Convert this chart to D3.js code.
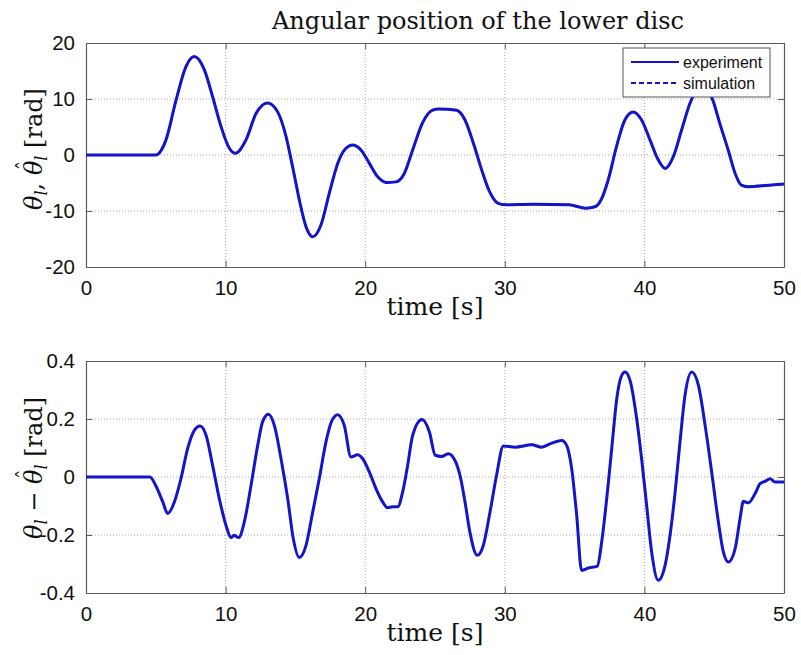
<!DOCTYPE html>
<html><head><meta charset="utf-8">
<script src="https://cdn.jsdelivr.net/npm/d3@7/dist/d3.min.js"></script>
<style>body{margin:0;background:#fff}</style>
</head><body>
<svg id="chart" width="801" height="655"></svg>
<script>
// ---- data ----
const xTicks = [0, 10, 20, 30, 40, 50];
const yTicksTop = [-20, -10, 0, 10, 20];
const yTicksBot = [-0.4, -0.2, 0, 0.2, 0.4];
const yTickLabelsBot = ["-0.4", "-0.2", "0", "0.2", "0.4"];
const seriesNames = ["experiment", "simulation"];

const timeTop = [0, 5.0, 5.73, 6.45, 7.16, 7.76, 8.48, 9.07, 9.67, 10.27, 10.7, 11.46, 12.18, 13.0, 13.73, 14.33, 14.8, 15.28, 15.76, 16.24, 16.83, 17.43, 18.03, 18.62, 19.1, 19.7, 20.3, 20.9, 21.5, 22.2, 22.8, 23.4, 24.1, 24.83, 25.3, 26.55, 27.15, 27.75, 28.35, 28.9, 29.5, 30.0, 32.0, 34.6, 35.8, 36.5, 36.9, 37.4, 38.0, 38.6, 39.2, 39.8, 40.4, 41.0, 41.5, 42.07, 42.67, 43.26, 44.2, 44.9, 45.4, 46.0, 46.5, 46.95, 47.4, 48.9, 50];
const experimentTop = [0, 0, 2.7, 9.8, 15.8, 17.6, 15.2, 10.4, 5.1, 1.2, 0.3, 2.7, 7.4, 9.3, 7.7, 3.3, -2.1, -8.0, -12.8, -14.6, -12.5, -6.8, -1.5, 1.2, 1.8, 0.9, -1.5, -3.9, -4.9, -4.8, -3.3, 0.9, 5.7, 8.0, 8.2, 8.0, 6.25, 2.1, -2.7, -6.5, -8.6, -8.9, -8.8, -8.9, -9.5, -9.2, -8.0, -4.5, 1.5, 6.25, 7.7, 6.25, 2.7, -0.9, -2.4, -0.3, 4.5, 9.2, 12.5, 9.8, 5.65, 0.9, -3.3, -5.4, -5.65, -5.4, -5.2];

const timeBot = [0, 4.58, 5.0, 5.5, 5.85, 6.33, 6.8, 7.28, 7.76, 8.17, 8.6, 9.07, 9.55, 10.03, 10.39, 10.6, 10.94, 11.34, 11.82, 12.3, 12.65, 13.06, 13.49, 13.97, 14.45, 14.85, 15.28, 15.76, 16.24, 16.71, 17.19, 17.62, 18.03, 18.5, 18.98, 19.46, 19.82, 20.3, 20.77, 21.25, 21.6, 21.97, 22.33, 22.68, 23.04, 23.4, 24.07, 24.6, 25.02, 25.48, 25.95, 26.43, 26.79, 27.15, 27.5, 28.03, 28.46, 28.94, 29.41, 29.9, 30.73, 31.93, 32.64, 33.36, 34.08, 34.43, 34.79, 35.15, 35.5, 35.98, 36.63, 36.94, 37.3, 37.66, 38.02, 38.33, 38.61, 38.97, 39.45, 39.8, 40.16, 40.52, 41.0, 41.48, 41.84, 42.2, 42.55, 42.91, 43.39, 43.87, 44.35, 44.82, 45.3, 45.66, 46.02, 46.5, 46.85, 47.09, 47.45, 47.93, 48.29, 48.65, 49.0, 49.36, 50];
const errorBot = [0, 0, -0.03, -0.086, -0.126, -0.086, -0.006, 0.098, 0.161, 0.176, 0.144, 0.04, -0.075, -0.167, -0.209, -0.201, -0.209, -0.155, -0.029, 0.109, 0.19, 0.216, 0.178, 0.063, -0.075, -0.213, -0.278, -0.236, -0.121, -0.006, 0.121, 0.195, 0.215, 0.178, 0.069, 0.077, 0.063, 0.017, -0.04, -0.086, -0.106, -0.103, -0.103, -0.052, 0.04, 0.144, 0.198, 0.155, 0.075, 0.071, 0.08, 0.057, 0.006, -0.086, -0.19, -0.27, -0.236, -0.121, 0.006, 0.107, 0.103, 0.111, 0.103, 0.117, 0.126, 0.109, 0.029, -0.132, -0.322, -0.314, -0.307, -0.224, -0.075, 0.098, 0.27, 0.345, 0.362, 0.333, 0.2, 0.063, -0.098, -0.259, -0.356, -0.305, -0.2, -0.052, 0.121, 0.282, 0.362, 0.316, 0.178, 0.017, -0.155, -0.259, -0.293, -0.247, -0.144, -0.084, -0.089, -0.057, -0.023, -0.015, -0.006, -0.017, -0.017];

// ---- drawing ----
const svg = d3.select("#chart");
const LINE = "#1414cc";
const AX = "#5a5a5a";
const L = 86, R = 784;
const x = d3.scaleLinear().domain([0, 50]).range([L, R]);

function panel(y0, y1, yDomain, yTicks, yLabels, t, v, withSim) {
  const y = d3.scaleLinear().domain(yDomain).range([y1, y0]);
  const g = svg.append("g");
  g.append("g").selectAll("line").data(xTicks.slice(1, -1)).join("line")
    .attr("x1", d => x(d)).attr("x2", d => x(d)).attr("y1", y0).attr("y2", y1)
    .attr("stroke", "#a8a8a8").attr("stroke-width", 1).attr("stroke-dasharray", "1,2");
  g.append("g").selectAll("line").data(yTicks.slice(1, -1)).join("line")
    .attr("y1", d => y(d)).attr("y2", d => y(d)).attr("x1", L).attr("x2", R)
    .attr("stroke", "#a8a8a8").attr("stroke-width", 1).attr("stroke-dasharray", "1,2");
  const xb = g.append("g").attr("transform", `translate(0,${y1})`)
    .call(d3.axisBottom(x).tickValues(xTicks).tickSizeInner(-6).tickSizeOuter(0).tickPadding(13));
  const xt = g.append("g").attr("transform", `translate(0,${y0})`)
    .call(d3.axisTop(x).tickValues(xTicks).tickSizeInner(-6).tickSizeOuter(0).tickFormat(""));
  const yl = g.append("g").attr("transform", `translate(${L},0)`)
    .call(d3.axisLeft(y).tickValues(yTicks).tickSizeInner(-6).tickSizeOuter(0).tickPadding(11)
      .tickFormat((d, i) => yLabels[i]));
  const yr = g.append("g").attr("transform", `translate(${R},0)`)
    .call(d3.axisRight(y).tickValues(yTicks).tickSizeInner(-6).tickSizeOuter(0).tickFormat(""));
  [xb, xt, yl, yr].forEach(a => {
    a.select(".domain").attr("stroke", AX).attr("stroke-width", 1.2);
    a.selectAll(".tick line").attr("stroke", AX);
    a.selectAll("text").attr("font-family", "Liberation Sans, Arial, sans-serif")
      .attr("font-size", 20.5).attr("fill", "#111");
  });
  const pts = t.map((d, i) => [d, v[i]]);
  const line = d3.line().x(d => x(d[0])).y(d => y(d[1])).curve(d3.curveMonotoneX);
  if (withSim) {
    g.append("path").attr("d", line(pts)).attr("fill", "none").attr("stroke", LINE)
      .attr("stroke-width", 2).attr("stroke-dasharray", "6,3");
  }
  g.append("path").attr("d", line(pts)).attr("fill", "none").attr("stroke", LINE)
    .attr("stroke-width", 3).attr("stroke-linejoin", "round");
  g.append("text").attr("x", (L + R) / 2).attr("y", y1 + 48).attr("text-anchor", "middle")
    .attr("font-family", "DejaVu Serif, serif").attr("font-size", 25).attr("fill", "#111")
    .text("time [s]");
  return { g, y };
}

const topPanel = panel(43, 267, [-20, 20], yTicksTop, yTicksTop.map(String), timeTop, experimentTop, true);
const botPanel = panel(361, 593, [-0.4, 0.4], yTicksBot, yTickLabelsBot, timeBot, errorBot, false);

svg.append("text").attr("x", 478).attr("y", 29).attr("text-anchor", "middle")
  .attr("font-family", "DejaVu Serif, serif").attr("font-size", 24).attr("fill", "#111")
  .text("Angular position of the lower disc");

function ylabel(cx, cy, parts) {
  const g = svg.append("g").attr("transform", `translate(${cx},${cy}) rotate(-90)`);
  const t = g.append("text")
    .attr("text-anchor", "middle").attr("font-family", "DejaVu Serif, serif")
    .attr("font-size", 24).attr("fill", "#111");
  let idx = 0, hatIdx = -1;
  parts.forEach(p => {
    const s = t.append("tspan").text(p.s);
    if (p.it) s.attr("font-style", "italic");
    if (p.sub) s.attr("font-size", 16).attr("dy", 5);
    if (p.up) s.attr("dy", -5);
    if (p.hat) hatIdx = idx;
    idx += p.s.length;
  });
  if (hatIdx >= 0) {
    const e = t.node().getExtentOfChar(hatIdx);
    g.append("text").attr("x", e.x + e.width / 2 + 2.5).attr("y", e.y + 12)
      .attr("text-anchor", "middle").attr("font-family", "DejaVu Serif, serif")
      .attr("font-size", 20).attr("fill", "#111").text("\u02C6");
  }
}
ylabel(42, 149, [
  { s: "θ", it: true }, { s: "l", it: true, sub: true }, { s: ", ", up: true },
  { s: "θ", it: true, hat: true }, { s: "l", it: true, sub: true }, { s: " [rad]", up: true }
]);
ylabel(42, 468, [
  { s: "θ", it: true }, { s: "l", it: true, sub: true }, { s: " − ", up: true },
  { s: "θ", it: true, hat: true }, { s: "l", it: true, sub: true }, { s: " [rad]", up: true }
]);

const lg = svg.append("g");
lg.append("rect").attr("x", 623).attr("y", 48).attr("width", 147).attr("height", 49)
  .attr("fill", "#fff").attr("stroke", "#555").attr("stroke-width", 1);
seriesNames.forEach((n, i) => {
  const yy = 62 + i * 21;
  lg.append("line").attr("x1", 631).attr("x2", 679).attr("y1", yy).attr("y2", yy)
    .attr("stroke", LINE).attr("stroke-width", 2.2)
    .attr("stroke-dasharray", i === 1 ? "5,3" : null);
  lg.append("text").attr("x", 683).attr("y", yy + 5.5)
    .attr("font-family", "Liberation Sans, Arial, sans-serif").attr("font-size", 16)
    .attr("fill", "#111").text(n);
});
</script>
</body></html>
